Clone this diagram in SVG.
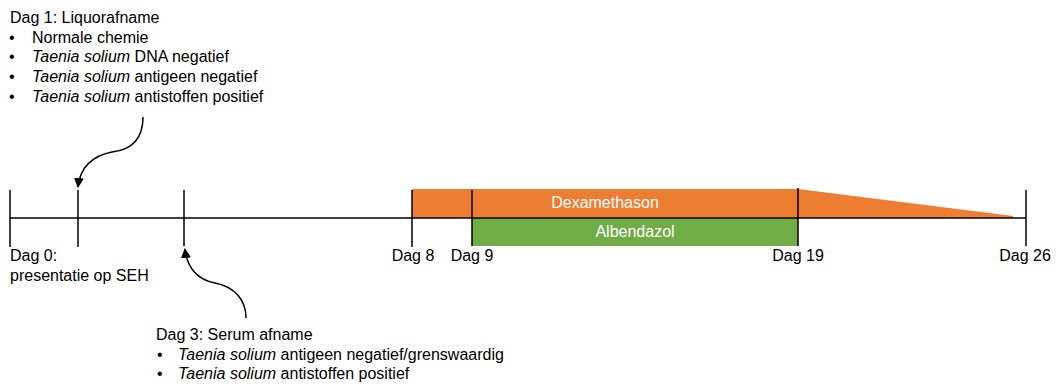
<svg xmlns="http://www.w3.org/2000/svg" width="1056" height="384" viewBox="0 0 1056 384">
<style>
text{font-family:"Liberation Sans",Arial,sans-serif;font-size:16px;fill:#000}
.it{font-style:italic}
.c{text-anchor:middle}
.w{fill:#fff}
.ln{stroke:#000;stroke-width:1.5;fill:none}
.tick{stroke:#000;stroke-width:1.5}
</style>
<defs>
<marker id="ah" viewBox="0 0 10 10" refX="9" refY="5" markerWidth="10" markerHeight="10" markerUnits="userSpaceOnUse" orient="auto">
<path d="M0,0 L10,5 L0,10 z" fill="#000"/>
</marker>
</defs>
<rect width="1056" height="384" fill="#fff"/>
<g id="bars">
<path d="M412,189 L798,189 L1013,216 L1013,218 L412,218 z" fill="#ED7D31"/>
<rect x="472" y="218" width="326" height="28" fill="#70AD47"/>
<text class="c w" x="605" y="208">Dexamethason</text>
<text class="c w" x="635" y="237">Albendazol</text>
</g>
<g id="timeline">
<line class="tick" x1="10" y1="218" x2="1026" y2="218"/>
<line class="tick" x1="10" y1="190" x2="10" y2="247"/>
<line class="tick" x1="78" y1="190" x2="78" y2="247"/>
<line class="tick" x1="184" y1="190" x2="184" y2="246"/>
<line class="tick" x1="412" y1="190" x2="412" y2="247"/>
<line class="tick" x1="472" y1="190" x2="472" y2="246"/>
<line class="tick" x1="798" y1="188" x2="798" y2="246"/>
<line class="tick" x1="1026" y1="190" x2="1026" y2="246"/>
</g>
<g id="labels">
<text x="10" y="261">Dag 0:<tspan x="10" y="281">presentatie op SEH</tspan></text>
<text class="c" x="413" y="261">Dag 8</text>
<text class="c" x="472" y="261">Dag 9</text>
<text class="c" x="798" y="261">Dag 19</text>
<text class="c" x="1025" y="261">Dag 26</text>
</g>
<g id="dag1">
<text x="10" y="23">Dag 1: Liquorafname<tspan x="9" y="42.5">•</tspan><tspan x="32" y="42.5">Normale chemie</tspan><tspan x="9" y="62">•</tspan><tspan x="32" y="62" class="it">Taenia solium</tspan><tspan> DNA negatief</tspan><tspan x="9" y="82">•</tspan><tspan x="32" y="82" class="it">Taenia solium</tspan><tspan> antigeen negatief</tspan><tspan x="9" y="101.5">•</tspan><tspan x="32" y="101.5" class="it">Taenia solium</tspan><tspan> antistoffen positief</tspan></text>
</g>
<g id="dag3">
<text x="156" y="340">Dag 3: Serum afname<tspan x="157" y="359.5">•</tspan><tspan x="178" y="359.5" class="it">Taenia solium</tspan><tspan> antigeen negatief/grenswaardig</tspan><tspan x="157" y="379">•</tspan><tspan x="178" y="379" class="it">Taenia solium</tspan><tspan> antistoffen positief</tspan></text>
</g>
<g id="connectors">
<path class="ln" marker-end="url(#ah)" d="M143,117 C143,140 130,150 112,152 C92,156 80,168 78,187"/>
<path class="ln" marker-end="url(#ah)" d="M246,318 C246,300 235,287 215,283 C198,280 187,268 185,249"/>
</g>
</svg>
